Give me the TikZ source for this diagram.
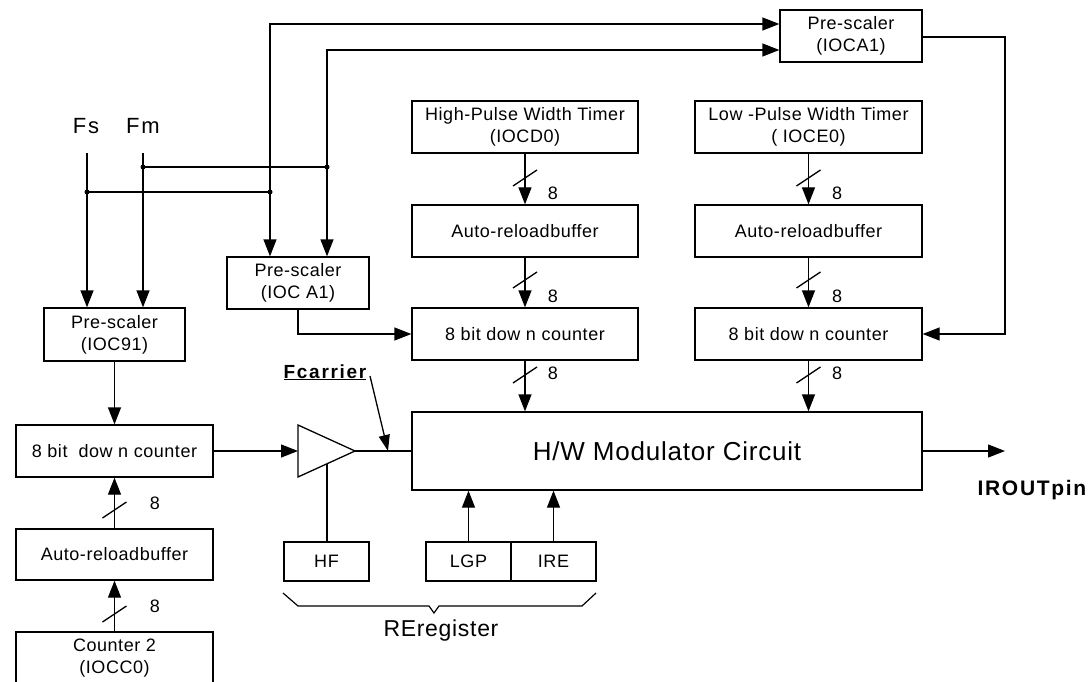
\documentclass[tikz,border=0pt]{standalone}
\usepackage{fontspec}
\setmainfont{Liberation Sans}[LetterSpace=3]
\usetikzlibrary{arrows.meta,calc}
\begin{document}
\begin{tikzpicture}[x=1pt,y=-1pt,line width=1.3pt,
  box/.style={draw,line width=1.3pt,inner sep=0pt,align=center,
    font=\fontsize{18}{22}\selectfont},
  arr/.style={-{Triangle[length=17pt,width=13pt]}},
  lbl/.style={inner sep=0pt,font=\fontsize{18}{20}\selectfont},
  dot/.style={circle,fill,inner sep=0pt,minimum size=5pt}]
\useasboundingbox (0,0) rectangle (1088,682);

% boxes
\node[box,minimum width=142pt,minimum height=52pt] (preA) at (851,36) {Pre-scaler\\(IOCA1)};
\node[box,minimum width=226pt,minimum height=52pt] (hpwt) at (525,127) {High-Pulse Width Timer\\(IOCD0)};
\node[box,minimum width=227pt,minimum height=52pt] (lpwt) at (808.5,127) {Low -Pulse Width Timer\\( IOCE0)};
\node[box,minimum width=226pt,minimum height=52pt] (arbM) at (525,231) {Auto-reloadbuffer};
\node[box,minimum width=227pt,minimum height=52pt] (arbR) at (808.5,231) {Auto-reloadbuffer};
\node[box,minimum width=226pt,minimum height=52pt] (cntM) at (525,334) {8 bit dow n counter};
\node[box,minimum width=227pt,minimum height=52pt] (cntR) at (808.5,334) {8 bit dow n counter};
\node[box,minimum width=510pt,minimum height=78pt,font=\fontsize{26}{30}\selectfont] (mod) at (667,451) {H/W Modulator Circuit};
\node[box,minimum width=142pt,minimum height=52pt] (preB) at (298,283) {Pre-scaler\\(IOC A1)};
\node[box,minimum width=141pt,minimum height=53pt] (preC) at (114.5,334.5) {Pre-scaler\\(IOC91)};
\node[box,minimum width=197pt,minimum height=52pt] (cntL) at (114.5,451) {8 bit\ \ dow n counter};
\node[box,minimum width=197pt,minimum height=51pt] (arbL) at (114.5,554.5) {Auto-reloadbuffer};
\node[box,minimum width=197pt,minimum height=52pt] (cntT) at (114.5,658) {Counter 2\\(IOCC0)};
\node[box,minimum width=85pt,minimum height=39pt] (hf) at (326.5,561.5) {HF};
\node[box,minimum width=85pt,minimum height=39pt] (lgp) at (468.5,561.5) {LGP};
\node[box,minimum width=85pt,minimum height=39pt] (ire) at (553.5,561.5) {IRE};

% amplifier
\coordinate (ampIn) at (298,451);
\coordinate (ampOut) at (355,451);
\coordinate (ampBot) at (327,464);
\draw (298,425) -- (ampOut) -- (298,477) -- cycle;

% text labels
\node[inner sep=0pt,anchor=base,font=\fontsize{22}{24}\selectfont\addfontfeature{LetterSpace=8}] (fs) at (86,134) {Fs};
\node[inner sep=0pt,anchor=base,font=\fontsize{22}{24}\selectfont\addfontfeature{LetterSpace=8}] (fm) at (143,134) {Fm};
\node[inner sep=0pt,anchor=base west,font=\fontsize{21}{24}\selectfont\bfseries\addfontfeature{LetterSpace=8}] (irout) at (977,495) {IROUTpin};
\node[inner sep=0pt,font=\fontsize{23}{26}\selectfont] (rereg) at (441,631) {REregister};
\node[inner sep=0pt,anchor=base west,font=\fontsize{19}{22}\selectfont\bfseries\addfontfeature{LetterSpace=9}] (fc) at (283,378) {\underline{Fcarrier}};

% input routing
\coordinate (fsTop) at (87,153);
\coordinate (fmTop) at (143,153);
\coordinate (j1) at (143,167);
\coordinate (j2) at (327,167);
\coordinate (j3) at (87,192);
\coordinate (j4) at (270,192);
\coordinate (c24) at (270,24);
\coordinate (c50) at (327,50);
\draw[arr] (fsTop) -- (fsTop |- preC.north);
\draw[arr] (fmTop) -- (fmTop |- preC.north);
\draw (j1) -- (j2);
\draw (j3) -- (j4);
\draw[arr] (j4) -- (c24) -- (c24 -| preA.west);
\draw[arr] (j4) -- (j4 |- preB.north);
\draw[arr] (j2) -- (c50) -- (c50 -| preA.west);
\draw[arr] (j2) -- (j2 |- preB.north);
\foreach \j in {j1,j2,j3,j4} \node[dot] at (\j) {};

\coordinate (rr) at (1005,37);
\draw[arr] (preA.east |- rr) -- (rr) -- (rr |- cntR.east) -- (cntR.east);
\draw[arr] (preB.south) -- (preB.south |- cntM.west) -- (cntM.west);
\draw[arr] (preC.south) -- (cntL.north);
\draw[arr] (cntL.east) -- (ampIn);
\draw (ampOut) -- (mod.west);
\draw (ampBot) -- (ampBot |- hf.north);
\draw[arr] (lgp.north) -- (lgp.north |- mod.south);
\draw[arr] (ire.north) -- (ire.north |- mod.south);
\coordinate (out) at (1005,451);
\draw[arr] (mod.east) -- (out);

% Fcarrier arrow
\coordinate (fcStart) at (370,376);
\coordinate (fcTip) at (388,451);
\draw[-{Triangle[length=16pt,width=11pt]}] (fcStart) -- (fcTip);

% bus arrows with slashes
\draw[arr] (hpwt.south) -- (arbM.north);
\draw[arr] (arbM.south) -- (cntM.north);
\draw[arr] (cntM.south) -- (cntM.south |- mod.north);
\draw[arr] (lpwt.south) -- (arbR.north);
\draw[arr] (arbR.south) -- (cntR.north);
\draw[arr] (cntR.south) -- (cntR.south |- mod.north);
\draw[arr] (arbL.north) -- (cntL.south);
\draw[arr] (cntT.north) -- (arbL.south);

\foreach \x/\y in {525/178, 525/280, 525/375, 808.5/178, 808.5/280, 808.5/375, 114.5/510, 114.5/614}
  \draw (\x-12,\y+8) -- (\x+12,\y-8);

\node[lbl] (n1) at (553,193) {8};
\node[lbl] (n2) at (553,296) {8};
\node[lbl] (n3) at (553,373) {8};
\node[lbl] (n4) at (837,193) {8};
\node[lbl] (n5) at (837,296) {8};
\node[lbl] (n6) at (837,373) {8};
\node[lbl] (n7) at (155,503) {8};
\node[lbl] (n8) at (155,606) {8};

% brace
\draw[line width=1.2pt] (283,593) -- (298,606) -- (429,606) -- (434,613) -- (439,606) -- (582,606) -- (596,593);
\end{tikzpicture}
\end{document}
